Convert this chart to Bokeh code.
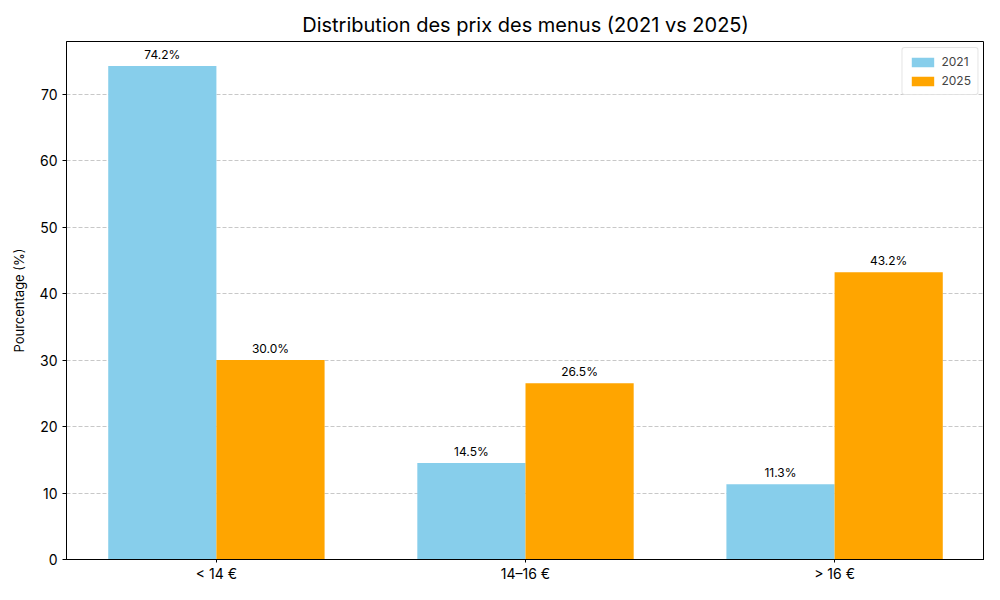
from bokeh.plotting import figure
from bokeh.models import ColumnDataSource, Range1d, FixedTicker, Legend, LegendItem, LabelSet
from bokeh.core.properties import value
from bokeh.embed import file_html
from bokeh.resources import INLINE

categories = ["< 14 €", "14–16 €", "> 16 €"]
years = ["2021", "2025"]
values_2021 = [74.2, 14.5, 11.3]
values_2025 = [30.0, 26.5, 43.2]
yticks = [0, 10, 20, 30, 40, 50, 60, 70]

FONT = "Inter"
bw = 0.35
xs = list(range(len(categories)))

p = figure(width=984, height=584, output_backend="svg", toolbar_location=None,
           x_range=Range1d(-0.485, 2.485), y_range=Range1d(0, 77.9),
           min_border_left=66, min_border_right=0, min_border_top=41, min_border_bottom=24)

p.title.text = "Distribution des prix des menus (2021 vs 2025)"
p.title.align = "center"
p.title.text_font = FONT
p.title.text_font_size = "20px"
p.title.text_font_style = "normal"
p.title.text_color = "black"

s1 = ColumnDataSource(dict(x=[x - bw / 2 for x in xs], top=values_2021,
                           lab=[f"{v:.1f}%" for v in values_2021]))
s2 = ColumnDataSource(dict(x=[x + bw / 2 for x in xs], top=values_2025,
                           lab=[f"{v:.1f}%" for v in values_2025]))

r1 = p.vbar(x="x", top="top", width=bw, bottom=0, source=s1, fill_color="#87CEEB", line_color=None)
r2 = p.vbar(x="x", top="top", width=bw, bottom=0, source=s2, fill_color="#FFA500", line_color=None)

for s in (s1, s2):
    p.add_layout(LabelSet(x="x", y="top", text="lab", source=s, text_align="center",
                          text_baseline="bottom", y_offset=4, text_font=value(FONT),
                          text_font_size=value("12px"), text_color="black"))

p.xaxis.ticker = FixedTicker(ticks=xs)
p.xaxis.major_label_overrides = {i: c for i, c in enumerate(categories)}
p.yaxis.ticker = FixedTicker(ticks=yticks)
for ax in (p.xaxis[0], p.yaxis[0]):
    ax.major_label_text_font = FONT
    ax.major_label_text_font_size = "14px"
    ax.major_label_text_color = "black"
    ax.axis_line_color = "black"
    ax.major_tick_line_color = "black"
    ax.major_tick_out = 4
    ax.major_tick_in = 0
    ax.minor_tick_line_color = None
p.xaxis.major_tick_out = 3
p.xaxis.major_label_standoff = 2
p.yaxis.axis_label = "Pourcentage (%)"
p.yaxis.axis_label_text_font = FONT
p.yaxis.axis_label_text_font_size = "13px"
p.yaxis.axis_label_text_font_style = "normal"
p.yaxis.axis_label_text_color = "black"
p.yaxis.axis_label_standoff = 10

p.xgrid.grid_line_color = None
p.ygrid.grid_line_color = "#b0b0b0"
p.ygrid.grid_line_dash = "4 2"
p.ygrid.grid_line_alpha = 0.7
p.outline_line_color = "black"
p.outline_line_alpha = 1

legend = Legend(items=[LegendItem(label=years[0], renderers=[r1]),
                       LegendItem(label=years[1], renderers=[r2])],
                location="top_right")
legend.label_text_font = FONT
legend.label_text_font_size = "12px"
legend.border_line_color = "#cccccc"
legend.border_radius = 3
legend.glyph_width = 28
legend.glyph_height = 12
legend.spacing = 4
legend.padding = 6
legend.margin = 6
legend.background_fill_alpha = 0.8
p.add_layout(legend)

open("out.html", "w").write(file_html(p, INLINE))
